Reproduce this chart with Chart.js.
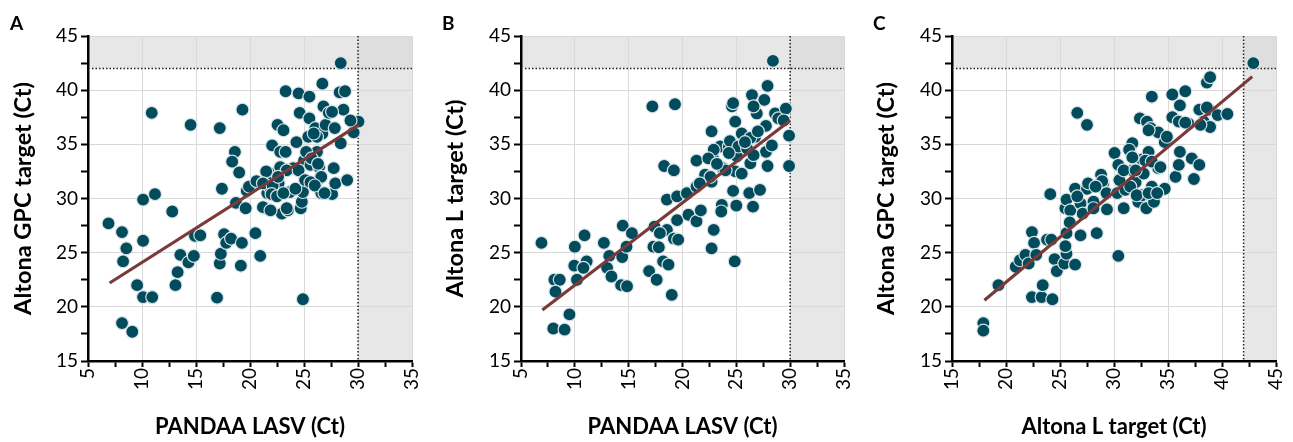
<!DOCTYPE html>
<html>
<head>
<meta charset="utf-8">
<script src="https://cdn.jsdelivr.net/npm/chart.js@4.4.1/dist/chart.umd.min.js"></script>
<style>
  html, body { margin: 0; padding: 0; background: #fff; }
  body { width: 1293px; height: 442px; position: relative; overflow: hidden; }
  .panel { position: absolute; top: 0; height: 442px; }
  .letter { position: absolute; top: 11px; font: bold 19px Lato, sans-serif; color: #000; }
</style>
</head>
<body>
<div class="panel" style="left:0;width:430px"><canvas id="chartA" width="430" height="442"></canvas></div>
<div class="panel" style="left:430px;width:430px"><canvas id="chartB" width="430" height="442"></canvas></div>
<div class="panel" style="left:860px;width:433px"><canvas id="chartC" width="433" height="442"></canvas></div>
<div class="letter" style="left:10px">A</div>
<div class="letter" style="left:442px">B</div>
<div class="letter" style="left:873px">C</div>
<script>
// panel A: PANDAA LASV vs Altona GPC
var aX = [6.9, 8.15, 8.55, 8.25, 9.55, 10.1, 10.95, 8.15, 9.1, 10.1, 11.2, 10.9, 10.1, 12.8, 13.1, 13.3, 13.55, 14.3, 14.8, 14.9,
  15.4, 14.5, 16.95, 17.2, 17.4, 17.2, 17.3, 17.6, 17.8, 18.25, 18.6, 18.35, 18.7, 19.0, 19.3, 19.25, 19.15, 19.6, 19.7, 19.9,
  20.5, 20.6, 20.95, 21.35, 21.6, 21.9, 22.05, 21.8, 22.55, 23.1, 23.3, 22.8, 23.3, 22.8, 22.65, 22.95, 23.5, 23.7, 24.0, 24.3,
  24.5, 24.6, 24.7, 24.8, 24.9, 24.9, 25.0, 25.5, 25.5, 25.4, 25.6, 26.05, 26.2, 26.4, 26.5, 26.6, 26.7, 26.8, 26.7, 27.0,
  27.3, 27.6, 27.75, 27.9, 27.85, 28.3, 28.4, 28.4, 28.65, 28.8, 29.0, 29.6, 29.6, 30.05, 29.3, 26.2, 25.2, 25.7, 26.3, 21.5,
  23.4, 24.5, 26.6, 21.2, 22.1, 22.6, 22.0, 22.5, 23.1, 24.2, 25.1, 25.6, 26.0, 26.9, 21.2, 21.9, 23.4, 25.9, 27.6];
var aY = [27.7, 26.9, 25.4, 24.2, 22.0, 20.9, 20.9, 18.5, 17.7, 29.9, 30.4, 37.9, 26.1, 28.8, 22.0, 23.2, 24.8, 24.1, 24.7, 26.55,
  26.6, 36.8, 20.85, 36.5, 30.9, 24.0, 24.9, 26.7, 25.9, 26.3, 34.3, 33.4, 29.6, 32.4, 38.2, 25.9, 23.8, 29.1, 30.7, 31.1,
  26.8, 31.6, 24.7, 29.1, 30.5, 32.3, 34.9, 31.1, 36.8, 36.3, 39.9, 34.3, 34.3, 32.9, 31.4, 28.6, 28.9, 30.6, 32.8, 35.2,
  39.7, 37.9, 29.1, 29.7, 30.6, 20.7, 33.5, 39.4, 37.4, 35.7, 33.1, 36.5, 34.3, 32.9, 31.9, 30.5, 40.6, 38.5, 36.0, 36.8,
  37.9, 30.4, 32.8, 31.4, 36.5, 39.8, 42.5, 35.1, 38.2, 39.9, 31.7, 36.9, 36.1, 37.1, 37.2, 35.7, 34.3, 33.7, 33.2, 32.5,
  32.6, 32.6, 32.0, 31.4, 31.2, 32.0, 30.4, 30.2, 30.5, 30.9, 31.7, 31.5, 31.2, 30.5, 29.2, 28.9, 29.1, 36.0, 38.0];
var aFitX = [7.0, 30.06];
var aFitY = [22.2, 36.8];

// panel B: PANDAA LASV vs Altona L
var bX = [6.9, 8.1, 8.6, 8.2, 8.0, 9.05, 9.5, 10.0, 9.95, 10.2, 10.9, 11.1, 10.8, 12.7, 13.2, 13.0, 13.4, 14.3, 14.85, 14.4,
  14.8, 14.45, 15.3, 16.9, 17.6, 17.2, 17.4, 17.3, 17.8, 18.2, 18.7, 18.3, 18.55, 18.55, 19.2, 19.3, 19.0, 19.2, 19.6, 19.5,
  19.5, 20.4, 20.55, 21.3, 21.3, 21.3, 21.7, 22.1, 22.7, 22.7, 22.7, 22.9, 22.8, 23.5, 23.65, 23.75, 24.3, 24.6, 24.7, 24.9,
  24.85, 24.9, 25.0, 25.05, 25.5, 26.2, 26.3, 26.45, 26.55, 26.75, 26.9, 27.2, 27.6, 27.9, 27.75, 27.75, 27.9, 28.3, 28.4, 28.6,
  28.9, 29.6, 29.9, 29.9, 29.4, 24.7, 26.6, 26.3, 24.4, 25.2, 26.0, 22.9, 24.3, 26.6, 22.4, 24.0, 25.5, 22.6, 21.6, 23.6,
  17.9, 23.2, 25.8, 27.0];
var bY = [25.9, 22.5, 22.5, 21.4, 18.0, 17.9, 19.3, 25.55, 23.8, 22.5, 26.6, 24.2, 23.6, 25.9, 24.7, 23.6, 22.8, 22.0, 21.9, 24.6,
  25.55, 27.5, 26.8, 23.3, 22.5, 38.5, 27.4, 25.55, 25.5, 24.2, 23.9, 33.0, 29.9, 27.1, 32.6, 38.7, 21.1, 26.3, 26.2, 30.2,
  28.0, 30.5, 28.5, 33.5, 31.1, 27.9, 28.9, 32.2, 36.2, 31.55, 25.4, 27.1, 33.8, 34.8, 29.4, 32.8, 34.8, 38.5, 30.7, 32.5,
  24.2, 37.1, 29.35, 33.9, 36.0, 30.5, 33.25, 39.55, 29.25, 35.7, 37.85, 30.8, 39.1, 40.4, 36.7, 34.3, 33.0, 34.9, 42.7, 37.85,
  37.4, 38.3, 35.8, 33.0, 37.2, 38.8, 38.5, 35.6, 35.3, 34.8, 34.6, 34.5, 34.2, 34.0, 33.7, 32.6, 32.3, 32.0, 31.4, 28.8,
  26.8, 33.2, 35.2, 36.2];
var bFitX = [6.98, 30.0];
var bFitY = [19.7, 37.2];

// panel C: Altona L vs Altona GPC
var cX = [17.9, 17.9, 19.3, 20.9, 21.3, 21.8, 22.1, 22.4, 22.6, 22.8, 22.4, 23.3, 23.4, 24.3, 24.1, 23.8, 24.2, 24.5, 24.7, 25.4,
  25.6, 25.6, 25.5, 25.5, 25.6, 25.95, 25.9, 26.4, 26.4, 26.6, 26.9, 26.9, 27.1, 27.5, 27.5, 28.1, 28.1, 28.4, 28.8, 29.0,
  29.35, 29.3, 30.05, 30.4, 30.4, 30.5, 30.3, 30.9, 31.05, 31.45, 31.7, 31.7, 32.0, 32.25, 32.4, 32.6, 32.6, 32.75, 33.0, 33.05,
  33.2, 33.5, 33.4, 33.5, 33.7, 34.1, 34.1, 34.7, 34.7, 34.9, 35.4, 35.4, 35.7, 36.0, 36.1, 36.1, 36.0, 36.6, 36.9, 37.2,
  37.4, 37.9, 37.9, 38.3, 38.6, 38.9, 38.8, 38.9, 39.6, 40.5, 42.9, 36.6, 33.2, 38.6, 38.0, 31.4, 32.9, 31.7, 30.9, 32.0,
  33.5, 34.3, 28.9, 31.5, 33.5, 32.1, 33.2, 34.0, 27.6, 28.3, 26.6];
var cY = [18.5, 17.8, 22.0, 23.7, 24.3, 24.8, 24.0, 26.9, 25.9, 24.8, 20.9, 20.9, 22.0, 20.7, 30.4, 26.2, 26.2, 24.4, 23.3, 24.0,
  24.9, 26.8, 25.6, 29.1, 29.9, 28.9, 27.8, 23.9, 30.9, 37.9, 29.55, 26.6, 28.6, 36.8, 30.9, 29.7, 29.1, 26.8, 32.2, 31.4,
  29.0, 30.5, 34.2, 33.1, 24.7, 31.7, 30.5, 29.1, 30.8, 34.5, 35.1, 32.6, 31.5, 29.7, 37.4, 30.3, 33.6, 32.3, 29.1, 37.1,
  34.3, 39.4, 36.5, 30.2, 29.7, 36.1, 32.8, 30.9, 35.2, 35.7, 39.6, 37.5, 32.0, 33.1, 38.6, 34.3, 37.1, 39.9, 36.9, 33.7,
  31.8, 33.1, 38.2, 37.1, 40.7, 41.2, 38.2, 36.6, 37.7, 37.8, 42.5, 37.0, 36.3, 38.4, 36.8, 34.5, 33.5, 33.8, 32.6, 32.6,
  33.4, 32.9, 31.6, 31.1, 31.1, 30.3, 30.5, 30.5, 31.4, 31.1, 30.2];
var cFitX = [18.0, 42.8];
var cFitY = [20.6, 41.25];

var pointFill = '#004b5c';
var lineColor = '#7b3a3a';
var gridColor = '#d9d9d9';
var fontName = 'Lato, "Noto Sans", sans-serif';

// grey bands beyond the cut-offs + dotted cut-off lines
var cutoffPlugin = {
  id: 'cutoffs',
  beforeDraw: function (chart, args, opts) {
    var ctx = chart.ctx, a = chart.chartArea;
    var xc = chart.scales.x.getPixelForValue(opts.xCut);
    var yc = chart.scales.y.getPixelForValue(opts.yCut);
    ctx.save();
    ctx.fillStyle = '#e7e7e7';
    ctx.fillRect(a.left, a.top, a.right - a.left, yc - a.top);
    ctx.fillRect(xc, yc, a.right - xc, a.bottom - yc);
    ctx.fillStyle = '#dedede';
    ctx.fillRect(xc, a.top, a.right - xc, yc - a.top);
    ctx.restore();
  },
  beforeDatasetsDraw: function (chart, args, opts) {
    var ctx = chart.ctx, a = chart.chartArea;
    var xc = chart.scales.x.getPixelForValue(opts.xCut);
    var yc = chart.scales.y.getPixelForValue(opts.yCut);
    ctx.save();
    ctx.strokeStyle = '#222';
    ctx.lineWidth = 1.5;
    ctx.setLineDash([1.5, 2]);
    ctx.beginPath();
    ctx.moveTo(a.left + 4, yc);
    ctx.lineTo(a.right, yc);
    ctx.moveTo(xc, a.top);
    ctx.lineTo(xc, a.bottom);
    ctx.stroke();
    ctx.restore();
  }
};

function toPoints(xs, ys) {
  return xs.map(function (x, i) { return { x: x, y: ys[i] }; });
}

function makePanel(id, xs, ys, fitX, fitY, cfg) {
  var majorOnly = function (v) { return v % 5 === 0 ? v : ''; };
  var gridCol = function (c) { return c.tick && c.tick.value % 5 === 0 ? gridColor : 'rgba(0,0,0,0)'; };
  return new Chart(document.getElementById(id), {
    type: 'scatter',
    data: {
      datasets: [
        {
          type: 'line',
          data: toPoints(fitX, fitY),
          borderColor: lineColor,
          borderWidth: 3.2,
          pointRadius: 0,
          fill: false,
          order: 0
        },
        {
          data: toPoints(xs, ys),
          backgroundColor: pointFill,
          borderColor: 'rgba(225,232,234,0.95)',
          borderWidth: 1.2,
          pointRadius: 6.5,
          order: 1
        }
      ]
    },
    options: {
      responsive: false,
      animation: false,
      events: [],
      layout: { padding: { left: 0, top: 36, right: cfg.padRight, bottom: 0 } },
      plugins: {
        legend: { display: false },
        tooltip: { enabled: false },
        cutoffs: { xCut: cfg.xCut, yCut: 42 }
      },
      scales: {
        x: {
          type: 'linear',
          min: cfg.xMin, max: cfg.xMax,
          afterFit: function (s) { s.height = 81; s.paddingLeft = 0; s.paddingRight = 0; },
          ticks: {
            stepSize: 2.5, autoSkip: false, minRotation: 90, maxRotation: 90,
            callback: majorOnly, color: '#000', padding: 1,
            font: { family: fontName, size: 19 }
          },
          grid: { color: gridCol, tickColor: '#000', tickLength: 6, tickWidth: 2, lineWidth: 1 },
          border: { display: true, color: '#000', width: 2.5 },
          title: {
            display: true, text: cfg.xTitle, color: '#000',
            font: { family: fontName, size: 22, weight: 'bold' },
            padding: { top: 0, bottom: 2 }
          }
        },
        y: {
          type: 'linear',
          min: 15, max: 45,
          afterFit: function (s) { s.width = cfg.axisWidth; s.paddingTop = 0; s.paddingBottom = 0; },
          ticks: {
            stepSize: 2.5, callback: majorOnly, color: '#000', padding: 3,
            font: { family: fontName, size: 19 }
          },
          grid: { color: gridCol, tickColor: '#000', tickLength: 7, tickWidth: 2, lineWidth: 1 },
          border: { display: true, color: '#000', width: 2.5 },
          title: {
            display: true, text: cfg.yTitle, color: '#000',
            font: { family: fontName, size: 23.5, weight: 'bold' },
            padding: { top: cfg.titlePad, bottom: 0 }
          }
        }
      }
    },
    plugins: [cutoffPlugin]
  });
}

makePanel('chartA', aX, aY, aFitX, aFitY, {
  xMin: 5, xMax: 35, xCut: 30, padRight: 18, axisWidth: 88, titlePad: 9,
  xTitle: 'PANDAA LASV (Ct)', yTitle: 'Altona GPC target (Ct)'
});
makePanel('chartB', bX, bY, bFitX, bFitY, {
  xMin: 5, xMax: 35, xCut: 30, padRight: 16, axisWidth: 91, titlePad: 11,
  xTitle: 'PANDAA LASV (Ct)', yTitle: 'Altona L target (Ct)'
});
makePanel('chartC', cX, cY, cFitX, cFitY, {
  xMin: 15, xMax: 45, xCut: 42, padRight: 17, axisWidth: 92, titlePad: 12,
  xTitle: 'Altona L target (Ct)', yTitle: 'Altona GPC target (Ct)'
});
</script>
</body>
</html>
